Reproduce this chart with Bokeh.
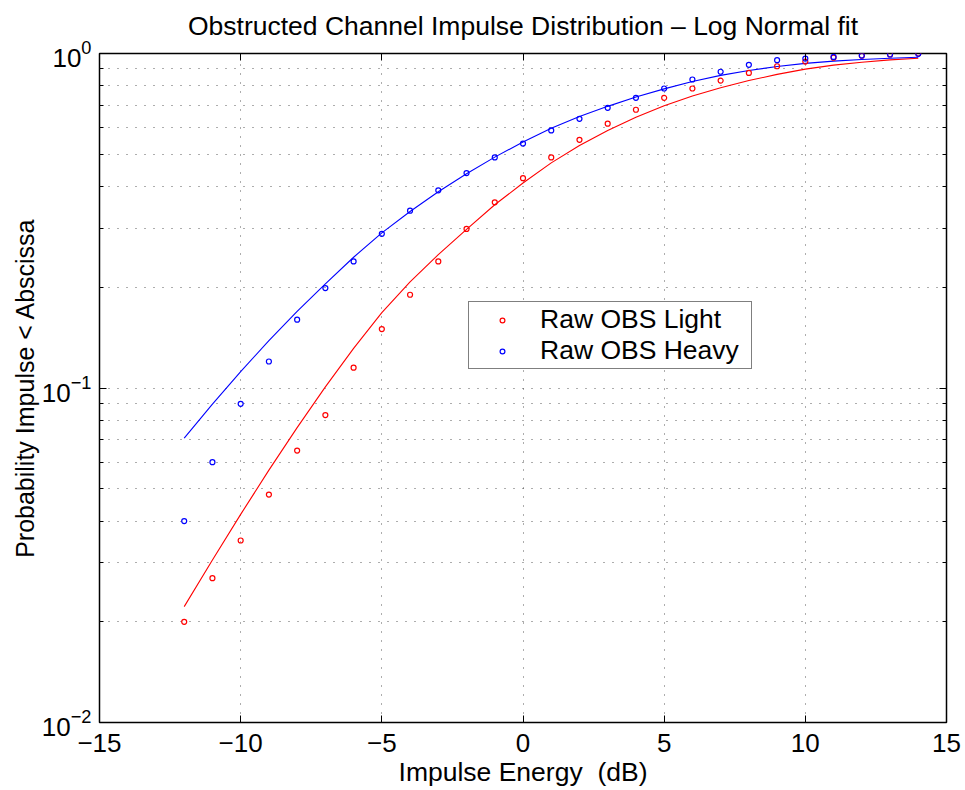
from bokeh.plotting import figure
from bokeh.models import (Range1d, LinearAxis, LogAxis, FixedTicker, LogTickFormatter,
                          CustomJSTickFormatter, Legend, LegendItem)
from bokeh.embed import file_html
from bokeh.resources import INLINE

# ---- data ----
x_obs = [-12, -11, -10, -9, -8, -7, -6, -5, -4, -3, -2, -1, 0, 1, 2, 3, 4, 5, 6, 7, 8, 9, 10, 11, 12, 13, 14]
light_obs = [0.020, 0.027, 0.035, 0.048, 0.065, 0.083, 0.115, 0.150, 0.190, 0.239, 0.299, 0.359, 0.424,
             0.489, 0.552, 0.617, 0.679, 0.737, 0.786, 0.830, 0.875, 0.916, 0.946, 0.972, 0.985, 0.993, 1.0]
heavy_obs = [0.040, 0.060, 0.0897, 0.120, 0.160, 0.199, 0.239, 0.289, 0.339, 0.390, 0.439, 0.489, 0.538,
             0.589, 0.638, 0.688, 0.737, 0.786, 0.836, 0.882, 0.925, 0.955, 0.966, 0.977, 0.986, 0.993, 0.998]

x_fit = [-12, -11, -10, -9, -8, -7, -6, -5, -4, -3, -2, -1, 0, 1, 2, 3, 4, 5, 6, 7, 8, 9, 10, 11, 12, 13, 14]
light_fit = [0.0222, 0.0306, 0.0419, 0.0568, 0.0761, 0.1008, 0.1313, 0.168, 0.2077, 0.2505, 0.298, 0.353, 0.410,
             0.471, 0.531, 0.589, 0.645, 0.698, 0.746, 0.790, 0.830, 0.866, 0.898, 0.923, 0.942, 0.957, 0.968]
heavy_fit = [0.0708, 0.0895, 0.112, 0.1385, 0.1694, 0.2049, 0.246, 0.291, 0.337, 0.386, 0.437, 0.490, 0.544,
             0.598, 0.648, 0.695, 0.741, 0.784, 0.825, 0.860, 0.890, 0.914, 0.934, 0.949, 0.960, 0.968, 0.975]

x_ticks = [-15, -10, -5, 0, 5, 10, 15]
y_ticks = [0.01, 0.1, 1.0]
y_minor = [0.02, 0.03, 0.04, 0.05, 0.06, 0.07, 0.08, 0.09,
           0.2, 0.3, 0.4, 0.5, 0.6, 0.7, 0.8, 0.9]
labels = ["Raw OBS Light", "Raw OBS Heavy"]
title_text = "Obstructed Channel Impulse Distribution \u2013 Log Normal fit"

FONT = "Liberation Sans"

p = figure(width=965, height=790, x_range=Range1d(-15, 15), y_range=Range1d(0.01, 1),
           y_axis_type="log", output_backend="svg", toolbar_location=None,
           min_border_left=99, min_border_right=19, min_border_top=53, min_border_bottom=68,
           background_fill_color="white", border_fill_color="white")

p.title.text = title_text
p.title.align = "center"
p.title.vertical_align = "top"
p.title.text_font = FONT
p.title.text_font_size = "26.5px"
p.title.text_font_style = "normal"
p.title.text_color = "black"
p.title.standoff = 21

p.outline_line_color = "black"
p.outline_line_width = 1.5

minus_fmt = CustomJSTickFormatter(code="return tick < 0 ? '\\u2212' + Math.abs(tick) : String(tick);")
blank_fmt = CustomJSTickFormatter(code="return '';")

xa = p.xaxis[0]
xa.ticker = FixedTicker(ticks=x_ticks)
xa.formatter = minus_fmt
ya = p.yaxis[0]
ya.ticker = FixedTicker(ticks=y_ticks, minor_ticks=y_minor)
ya.formatter = LogTickFormatter()

for ax in (xa, ya):
    ax.axis_line_color = None
    ax.major_tick_in = 7
    ax.major_tick_out = 0
    ax.minor_tick_in = 4
    ax.minor_tick_out = 0
    ax.major_tick_line_color = "black"
    ax.minor_tick_line_color = "black"
    ax.major_label_text_font = FONT
    ax.major_label_text_font_size = "26px"
    ax.major_label_text_color = "black"
    ax.axis_label_text_font = FONT
    ax.axis_label_text_font_size = "26.5px"
    ax.axis_label_text_font_style = "normal"
    ax.axis_label_text_color = "black"
xa.minor_tick_line_color = None
xa.axis_label = "Impulse Energy \u00a0(dB)"
ya.axis_label = "Probability Impulse < Abscissa"
ya.axis_label_text_font_size = "25px"
xa.major_label_standoff = 11
xa.axis_label_standoff = 2
ya.major_label_standoff = 8
ya.axis_label_standoff = 0

top = LinearAxis(ticker=FixedTicker(ticks=x_ticks), formatter=blank_fmt,
                 major_tick_in=7, major_tick_out=0, minor_tick_line_color=None,
                 axis_line_color=None, major_label_text_font_size="1px", major_label_standoff=0)
right = LogAxis(ticker=FixedTicker(ticks=y_ticks, minor_ticks=y_minor), formatter=blank_fmt,
                major_tick_in=7, major_tick_out=0, minor_tick_in=4, minor_tick_out=0,
                axis_line_color=None, major_label_text_font_size="1px", major_label_standoff=0)
p.add_layout(top, "above")
p.add_layout(right, "right")

p.xgrid.ticker = FixedTicker(ticks=x_ticks)
p.ygrid.ticker = FixedTicker(ticks=y_ticks, minor_ticks=y_minor)
for g in (p.xgrid[0], p.ygrid[0]):
    g.grid_line_color = "#333333"
    g.grid_line_alpha = 0.8
    g.grid_line_dash = "1 8"
    g.grid_line_width = 1
p.ygrid.minor_grid_line_color = "#333333"
p.ygrid.minor_grid_line_alpha = 0.8
p.ygrid.minor_grid_line_dash = "1 8"

p.line(x_fit, light_fit, line_color="#ff0000", line_width=1.1)
p.line(x_fit, heavy_fit, line_color="#0000ff", line_width=1.1)
r_light = p.scatter(x_obs, light_obs, marker="circle", size=5, fill_color=None,
                    line_color="#ff0000", line_width=1.2)
r_heavy = p.scatter(x_obs, heavy_obs, marker="circle", size=5, fill_color=None,
                    line_color="#0000ff", line_width=1.2)

legend = Legend(items=[LegendItem(label=labels[0], renderers=[r_light]),
                       LegendItem(label=labels[1], renderers=[r_heavy])],
                location=(369, 353), padding=2, spacing=0, margin=0,
                glyph_width=62, glyph_height=12, label_standoff=7, label_width=209,
                label_text_font=FONT, label_text_font_size="26.5px", label_text_color="black",
                border_line_color="black", border_line_width=1.5,
                background_fill_color="white", background_fill_alpha=1.0)
p.add_layout(legend, "center")

open("out.html", "w").write(file_html(p, INLINE))
